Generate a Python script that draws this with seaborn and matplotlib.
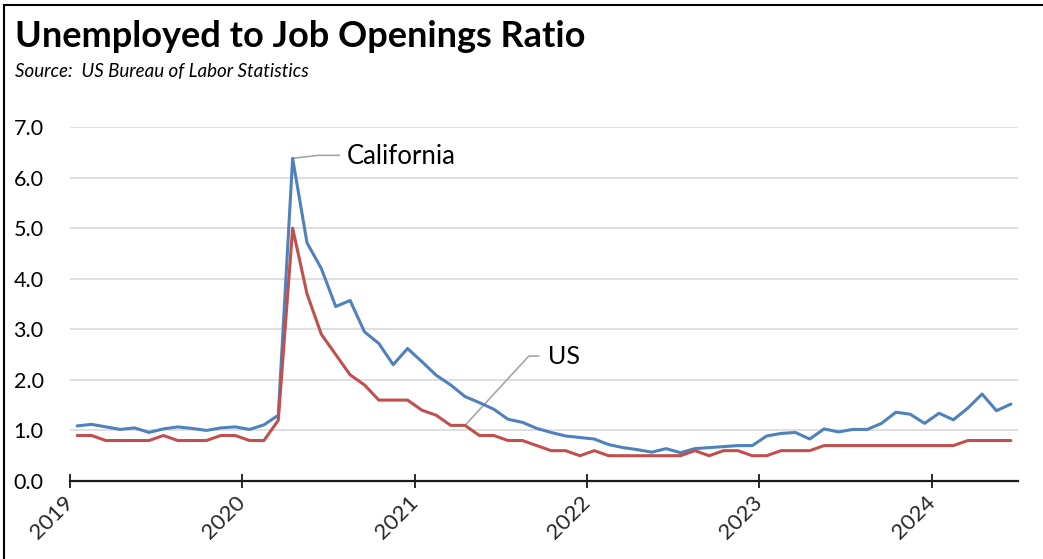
import numpy as np
import pandas as pd
import matplotlib
matplotlib.use("Agg")
import matplotlib.pyplot as plt
import matplotlib.transforms as mtransforms
from matplotlib.lines import Line2D
import seaborn as sns

# ---- data (monthly, Jan 2019 - Jun 2024) ----
california = [
    1.09, 1.12, 1.07, 1.02, 1.05, 0.96, 1.03, 1.07, 1.04, 1.00, 1.05, 1.07,
    1.02, 1.11, 1.30, 6.38, 4.71, 4.20, 3.45, 3.57, 2.95, 2.72, 2.30, 2.62,
    2.36, 2.09, 1.90, 1.67, 1.55, 1.42, 1.22, 1.16, 1.04, 0.96, 0.89, 0.86,
    0.83, 0.72, 0.66, 0.62, 0.57, 0.64, 0.56, 0.64, 0.66, 0.68, 0.70, 0.70,
    0.89, 0.94, 0.96, 0.83, 1.03, 0.97, 1.02, 1.02, 1.14, 1.36, 1.32, 1.14,
    1.34, 1.21, 1.44, 1.72, 1.39, 1.52,
]
us = [
    0.9, 0.9, 0.8, 0.8, 0.8, 0.8, 0.9, 0.8, 0.8, 0.8, 0.9, 0.9,
    0.8, 0.8, 1.2, 5.0, 3.7, 2.9, 2.5, 2.1, 1.9, 1.6, 1.6, 1.6,
    1.4, 1.3, 1.1, 1.1, 0.9, 0.9, 0.8, 0.8, 0.7, 0.6, 0.6, 0.5,
    0.6, 0.5, 0.5, 0.5, 0.5, 0.5, 0.5, 0.6, 0.5, 0.6, 0.6, 0.5,
    0.5, 0.6, 0.6, 0.6, 0.7, 0.7, 0.7, 0.7, 0.7, 0.7, 0.7, 0.7,
    0.7, 0.7, 0.8, 0.8, 0.8, 0.8,
]
year_labels = ["2019", "2020", "2021", "2022", "2023", "2024"]
y_ticks = [0.0, 1.0, 2.0, 3.0, 4.0, 5.0, 6.0, 7.0]
series_names = ["California", "US"]

n = len(california)
month_pos = np.arange(n) + 0.5
df = pd.DataFrame({
    "month": np.concatenate([month_pos, month_pos]),
    "ratio": california + us,
    "series": ["California"] * n + ["US"] * n,
})

sns.set_theme(style="white")
plt.rcParams["font.family"] = ["Lato", "DejaVu Sans"]

W, H = 1043, 559
fig = plt.figure(figsize=(W / 100, H / 100), dpi=100)
ax = fig.add_axes([70 / W, 1 - 481 / H, (1018 - 70) / W, (481 - 127) / H])

palette = {"California": "#4F81BD", "US": "#C0504D"}
sns.lineplot(data=df, x="month", y="ratio", hue="series", hue_order=series_names,
             palette=palette, linewidth=2.2, ax=ax, legend=False, zorder=3)

ax.set_xlim(0, 66)
ax.set_ylim(0, 7)
ax.set_yticks(y_ticks)
ax.set_yticklabels([f"{v:.1f}" for v in y_ticks], fontsize=15.5, color="#000000")
ax.set_xticks(np.arange(len(year_labels)) * 12)
ax.set_xticklabels(year_labels, fontsize=16, rotation=45, ha="right",
                   rotation_mode="anchor", va="center")
offset = mtransforms.ScaledTranslation(9 / 100, 0, fig.dpi_scale_trans)
for lbl in ax.get_xticklabels():
    lbl.set_transform(lbl.get_transform() + offset)
ax.set_xlabel("")
ax.set_ylabel("")

ax.grid(axis="y", color="#D9D9D9", linewidth=1.2, zorder=0)
ax.grid(axis="x", visible=False)
for s in ["left", "right", "top"]:
    ax.spines[s].set_visible(False)
ax.spines["bottom"].set_color("#1a1a1a")
ax.spines["bottom"].set_linewidth(1.6)
ax.spines["bottom"].set_zorder(4)
ax.tick_params(axis="x", direction="inout", length=10, width=1.3, color="#1a1a1a",
               pad=8, bottom=True)
ax.tick_params(axis="y", length=0, pad=19)

# ---- annotations ----
ca_peak = int(np.argmax(california))
ax.plot([month_pos[ca_peak], 17.3, 18.75], [california[ca_peak], 6.44, 6.44],
        color="#A6A6A6", linewidth=1.2, zorder=2)
ax.text(19.3, 6.41, "California", fontsize=18.5, va="center", ha="left", color="#000000")

us_idx = 27
ax.plot([month_pos[us_idx], 31.94, 32.64], [us[us_idx], 2.47, 2.47],
        color="#A6A6A6", linewidth=1.2, zorder=2)
ax.text(33.26, 2.46, "US", fontsize=18, va="center", ha="left", color="#000000")

# ---- titles ----
fig.text(15 / W, 1 - 47 / H, "Unemployed to Job Openings Ratio", fontsize=26,
         fontweight="bold", ha="left", va="baseline", color="#000000")
fig.text(15 / W, 1 - 77 / H, "Source:  US Bureau of Labor Statistics", fontsize=13.5,
         style="italic", ha="left", va="baseline", color="#000000")

# frame border (left and top)
fig.add_artist(Line2D([4 / W, 4 / W], [0, 1 - 5 / H], transform=fig.transFigure,
                      color="#000000", linewidth=1.5))
fig.add_artist(Line2D([4 / W, 1], [1 - 5 / H, 1 - 5 / H], transform=fig.transFigure,
                      color="#000000", linewidth=1.5))

fig.savefig("out.png", dpi=100, facecolor="white")
